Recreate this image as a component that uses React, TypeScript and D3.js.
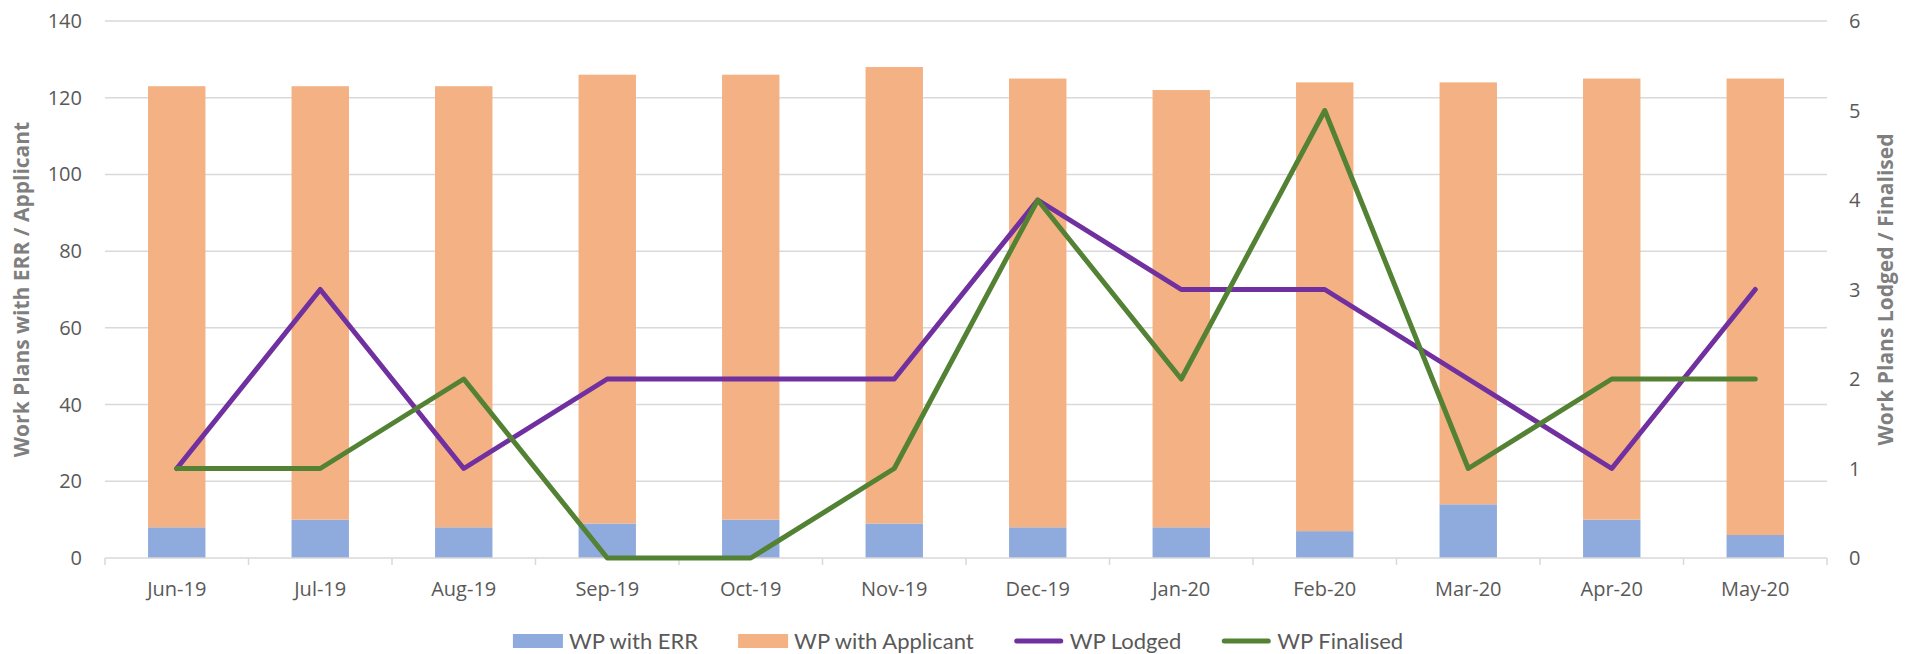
import React, { useEffect, useRef } from "react";
import * as d3 from "d3";

const width = 1910;
const height = 654;
const margin = { top: 21, right: 83, bottom: 96, left: 105 };

const months = ["Jun-19", "Jul-19", "Aug-19", "Sep-19", "Oct-19", "Nov-19", "Dec-19", "Jan-20", "Feb-20", "Mar-20", "Apr-20", "May-20"];
const wpWithErr = [8, 10, 8, 9, 10, 9, 8, 8, 7, 14, 10, 6];
const wpWithApplicant = [115, 113, 115, 117, 116, 119, 117, 114, 117, 110, 115, 119];
const wpLodged = [1, 3, 1, 2, 2, 2, 4, 3, 3, 2, 1, 3];
const wpFinalised = [1, 1, 2, 0, 0, 1, 4, 2, 5, 1, 2, 2];

const leftTicks = [0, 20, 40, 60, 80, 100, 120, 140];
const rightTicks = [0, 1, 2, 3, 4, 5, 6];

const colors = { err: "#8FAADC", applicant: "#F4B183", lodged: "#7030A0", finalised: "#548235" };
const tickFont = "'Open Sans', sans-serif";
const legendFont = "Lato, sans-serif";

function drawChart(node: SVGSVGElement) {
  const svg = d3.select(node);
  svg.selectAll("*").remove();

  const plotW = width - margin.left - margin.right;
  const plotH = height - margin.top - margin.bottom;
  const bottom = margin.top + plotH;

  const x = d3.scaleBand().domain(months).range([margin.left, margin.left + plotW]).paddingInner(0.6).paddingOuter(0.3);
  const band = d3.scaleBand().domain(months).range([margin.left, margin.left + plotW]);
  const yL = d3.scaleLinear().domain([0, 140]).range([bottom, margin.top]);
  const yR = d3.scaleLinear().domain([0, 6]).range([bottom, margin.top]);

  // gridlines
  svg
    .append("g")
    .selectAll("line")
    .data(leftTicks.slice(1))
    .join("line")
    .attr("x1", margin.left)
    .attr("x2", margin.left + plotW)
    .attr("y1", (d) => yL(d))
    .attr("y2", (d) => yL(d))
    .attr("stroke", "#D9D9D9")
    .attr("stroke-width", 1.5);

  // stacked bars
  const stacked = months.map((m, i) => ({ m, err: wpWithErr[i], app: wpWithApplicant[i] }));
  const bars = svg.append("g");
  bars
    .selectAll("rect.err")
    .data(stacked)
    .join("rect")
    .attr("class", "err")
    .attr("x", (d) => x(d.m)!)
    .attr("width", x.bandwidth())
    .attr("y", (d) => yL(d.err))
    .attr("height", (d) => yL(0) - yL(d.err))
    .attr("fill", colors.err);
  bars
    .selectAll("rect.app")
    .data(stacked)
    .join("rect")
    .attr("class", "app")
    .attr("x", (d) => x(d.m)!)
    .attr("width", x.bandwidth())
    .attr("y", (d) => yL(d.err + d.app))
    .attr("height", (d) => yL(d.err) - yL(d.err + d.app))
    .attr("fill", colors.applicant);

  // bottom axis line + ticks at category boundaries
  const axis = svg.append("g").attr("stroke", "#D9D9D9").attr("stroke-width", 1.5);
  axis.append("line").attr("x1", margin.left).attr("x2", margin.left + plotW).attr("y1", bottom).attr("y2", bottom);
  const edges = months.map((m) => band(m)!).concat([margin.left + plotW]);
  axis
    .selectAll("line.tick")
    .data(edges)
    .join("line")
    .attr("class", "tick")
    .attr("x1", (d) => d)
    .attr("x2", (d) => d)
    .attr("y1", bottom)
    .attr("y2", bottom + 7);

  // lines
  const cx = (i: number) => x(months[i])! + x.bandwidth() / 2;
  const line = d3
    .line<number>()
    .x((_, i) => cx(i))
    .y((d) => yR(d));
  [
    { data: wpLodged, color: colors.lodged },
    { data: wpFinalised, color: colors.finalised },
  ].forEach((s) => {
    svg
      .append("path")
      .datum(s.data)
      .attr("d", line)
      .attr("fill", "none")
      .attr("stroke", s.color)
      .attr("stroke-width", 5)
      .attr("stroke-linejoin", "round")
      .attr("stroke-linecap", "round");
  });

  // tick labels
  svg
    .append("g")
    .selectAll("text")
    .data(leftTicks)
    .join("text")
    .attr("x", 82)
    .attr("y", (d) => yL(d))
    .attr("dy", "0.35em")
    .attr("text-anchor", "end")
    .attr("font-family", tickFont)
    .attr("font-size", 20)
    .attr("fill", "#595959")
    .text((d) => d);
  svg
    .append("g")
    .selectAll("text")
    .data(rightTicks)
    .join("text")
    .attr("x", 1849)
    .attr("y", (d) => yR(d))
    .attr("dy", "0.35em")
    .attr("text-anchor", "start")
    .attr("font-family", tickFont)
    .attr("font-size", 20)
    .attr("fill", "#595959")
    .text((d) => d);
  svg
    .append("g")
    .selectAll("text")
    .data(months)
    .join("text")
    .attr("x", (d) => x(d)! + x.bandwidth() / 2)
    .attr("y", 589)
    .attr("dy", "0.35em")
    .attr("text-anchor", "middle")
    .attr("font-family", tickFont)
    .attr("font-size", 20)
    .attr("fill", "#595959")
    .text((d) => d);

  // axis titles
  const midY = margin.top + plotH / 2;
  svg
    .append("text")
    .attr("transform", `translate(22, ${midY}) rotate(-90)`)
    .attr("dy", "0.35em")
    .attr("text-anchor", "middle")
    .attr("font-family", tickFont)
    .attr("font-weight", 700)
    .attr("font-size", 21)
    .attr("fill", "#7F7F7F")
    .text("Work Plans with ERR / Applicant");
  svg
    .append("text")
    .attr("transform", `translate(1886, ${midY}) rotate(-90)`)
    .attr("dy", "0.35em")
    .attr("text-anchor", "middle")
    .attr("font-family", tickFont)
    .attr("font-weight", 700)
    .attr("font-size", 21)
    .attr("fill", "#7F7F7F")
    .text("Work Plans Lodged / Finalised");

  // legend, measured then centred
  const legendItems = [
    { label: "WP with ERR", color: colors.err, kind: "rect" },
    { label: "WP with Applicant", color: colors.applicant, kind: "rect" },
    { label: "WP Lodged", color: colors.lodged, kind: "line" },
    { label: "WP Finalised", color: colors.finalised, kind: "line" },
  ];
  const legendY = 641;
  const swatchW = 50;
  const gapText = 6;
  const gapItem = 40;
  const legend = svg.append("g");
  const widths: number[] = [];
  legendItems.forEach((item) => {
    const t = legend
      .append("text")
      .attr("font-family", legendFont)
      .attr("font-size", 22)
      .attr("fill", "#595959")
      .attr("y", legendY)
      .attr("dy", "0.35em")
      .text(item.label);
    widths.push((t.node() as SVGTextElement).getComputedTextLength());
  });
  const total = d3.sum(widths) + legendItems.length * (swatchW + gapText) + (legendItems.length - 1) * gapItem;
  let lx = 958 - total / 2;
  legend.selectAll("text").each(function (_, i) {
    const item = legendItems[i];
    if (item.kind === "rect") {
      legend.append("rect").attr("x", lx).attr("y", legendY - 7).attr("width", swatchW).attr("height", 14).attr("fill", item.color);
    } else {
      legend
        .append("line")
        .attr("x1", lx + 3)
        .attr("x2", lx + swatchW - 3)
        .attr("y1", legendY)
        .attr("y2", legendY)
        .attr("stroke", item.color)
        .attr("stroke-width", 5)
        .attr("stroke-linecap", "round");
    }
    d3.select(this).attr("x", lx + swatchW + gapText);
    lx += swatchW + gapText + widths[i] + gapItem;
  });
}

export default function App() {
  const ref = useRef<SVGSVGElement>(null);
  useEffect(() => {
    if (ref.current) drawChart(ref.current);
  }, []);
  return (
    <div style={{ position: "absolute", left: 0, top: 0 }}>
      <svg ref={ref} width={width} height={height} style={{ display: "block", background: "#fff" }} />
    </div>
  );
}
